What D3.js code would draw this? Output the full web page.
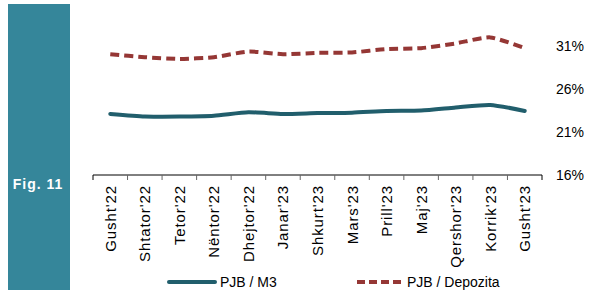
<!DOCTYPE html>
<html>
<head>
<meta charset="utf-8">
<script src="https://cdn.jsdelivr.net/npm/d3@7"></script>
<style>
  body { margin: 0; background: #fff; }
  svg { display: block; }
</style>
</head>
<body>
<div id="chart"></div>
<script>
// Data
const months = ["Gusht'22", "Shtator'22", "Tetor'22", "Nëntor'22", "Dhejtor'22", "Janar'23",
  "Shkurt'23", "Mars'23", "Prill'23", "Maj'23", "Qershor'23", "Korrik'23", "Gusht'23"];
const pjbM3 = [23.1, 22.8, 22.8, 22.9, 23.3, 23.1, 23.2, 23.25, 23.45, 23.5, 23.85, 24.15, 23.45];
const pjbDepozita = [30.05, 29.7, 29.5, 29.7, 30.35, 30.05, 30.2, 30.25, 30.65, 30.75, 31.3, 32.0, 30.75];
const yTicks = [16, 21, 26, 31];
const seriesNames = ["PJB / M3", "PJB / Depozita"];

const W = 592, H = 290;
const plot = {left: 93, right: 542, top: 3, bottom: 175};
const font = "'Liberation Sans', Arial, sans-serif";

const svg = d3.select("#chart").append("svg")
  .attr("width", W)
  .attr("height", H);

// Side bar with figure number
svg.append("rect")
  .attr("x", 8).attr("y", 4)
  .attr("width", 62).attr("height", 286)
  .attr("fill", "#35869a");

svg.append("text")
  .attr("x", 38).attr("y", 189)
  .attr("text-anchor", "middle")
  .attr("font-family", font)
  .attr("font-weight", "bold")
  .attr("font-size", "14px")
  .attr("letter-spacing", "1px")
  .attr("fill", "#fff")
  .text("Fig. 11");

// Scales
const x = d3.scaleBand()
  .domain(months)
  .range([plot.left, plot.right]);

const y = d3.scaleLinear()
  .domain([16, 36])
  .range([plot.bottom, plot.top]);

// x axis (ticks between categories, pointing down)
const xAxis = svg.append("g")
  .attr("transform", `translate(0, ${plot.bottom})`);

xAxis.append("line")
  .attr("x1", plot.left).attr("x2", plot.right)
  .attr("stroke", "#000").attr("stroke-width", 1);

xAxis.selectAll(".tick")
  .data(months.concat(["end"]))
  .enter()
  .append("line")
  .attr("x1", (d, i) => plot.left + i * x.step())
  .attr("x2", (d, i) => plot.left + i * x.step())
  .attr("y1", 0).attr("y2", 5)
  .attr("stroke", (d, i) => (i === 0 || i === months.length) ? "#000" : "#666")
  .attr("stroke-width", 1);

xAxis.selectAll(".lbl")
  .data(months)
  .enter()
  .append("text")
  .attr("transform", d => `translate(${x(d) + x.bandwidth() / 2 + 5.5}, 10) rotate(-90)`)
  .attr("text-anchor", "end")
  .attr("font-family", font)
  .attr("font-size", "15px")
  .attr("letter-spacing", "0.9px")
  .attr("fill", "#000")
  .text(d => d);

// y axis labels on the right, no line
const yAxis = d3.axisRight(y)
  .tickValues(yTicks)
  .tickSize(0)
  .tickPadding(0)
  .tickFormat(d => d + "%");

svg.append("g")
  .attr("transform", `translate(556, 0)`)
  .call(yAxis)
  .call(g => g.select(".domain").remove())
  .selectAll("text")
  .attr("font-family", font)
  .attr("font-size", "14px")
  .attr("fill", "#000");

// Lines
const line = d3.line()
  .x((d, i) => x(months[i]) + x.bandwidth() / 2)
  .y(d => y(d))
  .curve(d3.curveCardinal.tension(0.4));

svg.append("path")
  .datum(pjbM3)
  .attr("d", line)
  .attr("fill", "none")
  .attr("stroke", "#215e6c")
  .attr("stroke-width", 4)
  .attr("stroke-linecap", "round");

svg.append("path")
  .datum(pjbDepozita)
  .attr("d", line)
  .attr("fill", "none")
  .attr("stroke", "#953735")
  .attr("stroke-width", 4)
  .attr("stroke-dasharray", "9,5");

// Legend
const legend = svg.append("g");

legend.append("line")
  .attr("x1", 169).attr("x2", 215)
  .attr("y1", 282).attr("y2", 282)
  .attr("stroke", "#215e6c")
  .attr("stroke-width", 4)
  .attr("stroke-linecap", "round");

legend.append("text")
  .attr("x", 220).attr("y", 287)
  .attr("font-family", font)
  .attr("font-size", "14px")
  .text(seriesNames[0]);

legend.append("line")
  .attr("x1", 357).attr("x2", 403)
  .attr("y1", 282).attr("y2", 282)
  .attr("stroke", "#953735")
  .attr("stroke-width", 4)
  .attr("stroke-dasharray", "8,4");

legend.append("text")
  .attr("x", 407).attr("y", 287)
  .attr("font-family", font)
  .attr("font-size", "14px")
  .text(seriesNames[1]);
</script>
</body>
</html>
